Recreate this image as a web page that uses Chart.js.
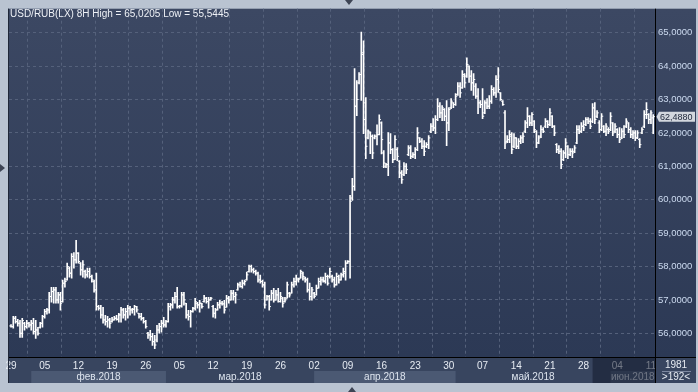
<!DOCTYPE html>
<html>
<head>
<meta charset="utf-8">
<script src="https://cdn.jsdelivr.net/npm/chart.js@4.4.1/dist/chart.umd.min.js"></script>
<style>
  html, body { margin: 0; padding: 0; background: #b9c3d1; }
  canvas { display: block; }
</style>
</head>
<body>
<canvas id="usdrub" width="698" height="392"></canvas>
<script>
// USD/RUB(LX), 8H bars, 29 Jan - 11 Jun 2018 (3 bars a day, 15 a week)
const opens = [
  56.22,56.20,56.45,56.35,56.30,56.00,56.30,56.20,56.30,56.25,
  56.30,56.05,56.10,56.18,56.30,56.50,56.65,56.70,57.10,57.25,
  57.30,57.00,57.15,56.95,57.50,57.60,57.95,57.80,58.30,58.20,
  58.40,58.10,57.90,57.85,57.75,57.85,57.70,57.55,57.30,56.80,
  56.75,56.55,56.40,56.35,56.40,56.35,56.40,56.45,56.42,56.55,
  56.70,56.55,56.65,56.75,56.70,56.72,56.80,56.60,56.50,56.45,
  56.35,56.00,55.95,55.90,55.75,55.80,56.10,56.20,56.30,56.25,
  56.35,56.80,56.85,57.00,57.10,56.80,56.82,57.15,56.90,56.55,
  56.50,56.65,56.75,56.90,56.85,56.90,56.95,57.05,56.95,57.00,
  56.80,56.60,56.70,56.85,56.90,56.88,56.78,57.05,57.00,57.20,
  57.10,57.30,57.45,57.40,57.50,57.60,57.85,58.00,57.90,57.85,
  57.80,57.60,57.55,57.45,57.00,57.10,57.00,57.20,57.00,57.15,
  56.95,57.05,56.95,57.05,57.20,57.20,57.45,57.55,57.60,57.65,
  57.80,57.65,57.60,57.30,57.10,57.20,57.15,57.35,57.55,57.60,
  57.55,57.70,57.70,57.70,57.60,57.45,57.70,57.60,57.75,57.80,
  58.10,58.15,60.05,60.40,62.80,63.50,63.75,64.40,62.90,61.85,
  62.00,61.90,61.85,61.90,61.95,62.30,61.40,61.00,61.05,61.70,
  61.50,61.20,61.50,61.15,60.80,60.75,61.00,61.35,61.55,61.30,
  61.35,61.50,61.85,61.75,61.60,61.60,61.65,62.05,62.20,62.15,
  62.40,62.80,62.60,62.70,62.50,62.30,62.75,62.90,62.85,63.15,
  63.40,63.35,63.70,63.70,64.00,63.70,63.50,63.40,63.10,62.90,
  62.85,62.60,62.90,62.80,62.95,63.30,63.20,63.60,63.20,62.95,
  62.60,61.75,61.80,61.90,61.60,61.85,61.60,61.75,61.85,62.05,
  62.30,62.50,62.30,62.35,62.05,61.70,61.90,62.10,62.20,62.35,
  62.25,62.50,62.20,61.65,61.50,61.45,61.20,61.40,61.60,61.35,
  61.45,61.45,61.70,62.10,62.05,62.20,62.25,62.40,62.35,62.35,
  62.75,62.50,62.30,62.10,62.20,62.05,62.10,62.10,62.30,62.05,
  62.10,61.95,61.85,62.05,62.20,62.30,62.10,61.95,62.00,61.85,
  61.80,62.00,62.20,62.55,62.55,62.40,62.45
];
const highs = [
  56.26,56.51,56.51,56.42,56.39,56.45,56.33,56.39,56.33,56.39,
  56.45,56.39,56.18,56.33,56.54,56.72,56.75,57.23,57.38,57.38,
  57.38,57.23,57.23,57.59,57.65,58.10,57.98,58.39,58.42,58.78,
  58.42,58.12,58.18,57.89,57.95,57.95,57.74,57.59,57.80,56.84,
  56.84,56.78,56.54,56.51,56.45,56.48,56.51,56.54,56.60,56.78,
  56.75,56.75,56.84,56.81,56.75,56.84,56.81,56.60,56.60,56.48,
  56.39,56.03,56.09,56.00,55.94,56.24,56.30,56.39,56.48,56.39,
  56.90,56.90,57.08,57.23,57.38,56.84,57.23,57.23,56.90,56.69,
  56.69,56.78,57.05,56.93,56.99,56.90,57.14,57.08,57.08,57.08,
  56.84,56.75,56.93,56.99,56.96,56.99,57.14,57.11,57.29,57.29,
  57.23,57.50,57.53,57.59,57.59,57.83,58.04,58.04,57.95,57.89,
  57.83,57.74,57.59,57.53,57.14,57.14,57.29,57.35,57.29,57.35,
  57.23,57.08,57.08,57.53,57.23,57.53,57.65,57.74,57.65,57.89,
  57.83,57.68,57.65,57.50,57.38,57.23,57.44,57.65,57.68,57.68,
  57.80,57.74,57.95,57.74,57.68,57.80,57.74,57.80,57.95,58.18,
  58.18,60.13,60.64,63.93,63.57,63.81,65.02,64.76,63.06,62.09,
  62.03,61.94,61.94,62.24,62.54,62.33,61.47,61.09,62.01,61.98,
  61.53,61.92,61.56,61.17,60.87,61.11,61.08,61.62,61.62,61.41,
  61.56,62.16,61.86,61.83,61.77,61.71,61.92,62.28,62.43,62.52,
  63.03,62.91,62.82,62.73,62.97,62.76,63.03,62.91,63.18,63.51,
  63.51,63.87,63.78,64.25,64.01,63.87,63.78,63.48,63.33,62.97,
  63.33,62.97,63.03,63.12,63.42,63.36,63.72,63.96,63.21,62.97,
  62.67,61.92,62.07,62.01,61.98,61.86,61.83,61.92,62.01,62.37,
  62.76,62.52,62.61,62.37,62.07,61.92,62.22,62.16,62.43,62.37,
  62.73,62.52,62.22,61.68,61.62,61.53,61.47,61.83,61.62,61.53,
  61.53,61.62,62.22,62.22,62.31,62.37,62.46,62.46,62.43,62.88,
  62.91,62.67,62.37,62.58,62.22,62.28,62.16,62.61,62.31,62.28,
  62.13,62.16,62.13,62.22,62.43,62.31,62.16,62.07,62.07,62.07,
  61.83,62.16,62.67,62.91,62.58,62.67,62.55
];
const lows = [
  56.18,56.15,56.30,56.21,55.88,55.88,56.09,56.15,56.18,56.09,
  55.97,55.85,55.94,56.15,56.18,56.45,56.57,56.60,56.93,56.90,
  56.90,56.90,56.69,56.93,57.38,57.59,57.68,57.65,57.95,58.10,
  58.10,57.74,57.68,57.65,57.68,57.65,57.53,57.23,56.69,56.69,
  56.45,56.30,56.24,56.18,56.15,56.33,56.39,56.39,56.33,56.33,
  56.45,56.39,56.45,56.54,56.60,56.54,56.63,56.45,56.39,56.30,
  56.15,55.85,55.79,55.64,55.54,55.74,56.00,56.03,56.18,56.18,
  56.33,56.69,56.75,56.90,56.75,56.75,56.78,56.84,56.45,56.39,
  56.18,56.63,56.69,56.75,56.63,56.75,56.93,56.90,56.75,56.99,
  56.48,56.45,56.69,56.75,56.84,56.60,56.78,56.90,56.99,56.99,
  56.90,57.29,57.38,57.35,57.44,57.59,57.83,57.83,57.80,57.74,
  57.53,57.50,57.38,56.75,56.99,56.69,56.99,56.93,56.99,56.93,
  56.93,56.78,56.93,57.05,57.08,57.20,57.38,57.44,57.53,57.65,
  57.59,57.53,57.23,56.99,56.99,57.05,57.14,57.35,57.44,57.53,
  57.50,57.44,57.65,57.53,57.38,57.44,57.50,57.59,57.68,57.59,
  58.09,57.65,59.98,60.28,62.52,63.47,62.97,61.98,61.23,61.82,
  61.38,61.23,61.82,61.64,61.94,61.37,60.96,60.96,60.72,61.38,
  61.11,61.20,61.17,60.66,60.49,60.72,60.78,61.32,61.23,61.26,
  61.23,61.47,61.71,61.53,61.32,61.56,61.53,62.01,62.07,61.98,
  62.37,62.46,62.37,62.37,61.62,62.07,62.73,62.76,62.82,63.12,
  63.06,63.33,63.36,63.66,63.51,63.27,63.12,63.03,62.58,62.76,
  62.43,62.58,62.73,62.73,62.88,63.12,63.06,63.21,62.97,62.82,
  61.53,61.71,61.71,61.38,61.56,61.53,61.53,61.68,61.71,62.01,
  62.16,62.22,62.22,62.01,61.56,61.68,61.86,62.01,62.16,62.16,
  62.22,62.16,61.92,61.41,61.38,60.93,61.17,61.26,61.23,61.32,
  61.26,61.41,61.68,61.98,62.01,62.07,62.22,62.28,62.13,62.31,
  62.28,62.46,62.01,62.07,62.01,61.92,61.98,62.07,61.92,62.01,
  61.86,61.71,61.83,61.86,62.16,62.01,61.86,61.83,61.77,61.83,
  61.56,61.98,62.16,62.43,62.28,62.28,61.98
];
const closes = [
  56.20,56.45,56.35,56.30,56.00,56.38,56.20,56.30,56.25,56.30,
  56.05,56.10,56.00,56.30,56.50,56.65,56.70,57.10,57.25,57.30,
  57.00,57.15,56.90,57.50,57.55,58.00,57.80,58.30,58.20,58.40,
  58.15,57.90,58.05,57.75,57.85,57.70,57.60,57.30,56.80,56.75,
  56.55,56.40,56.35,56.40,56.30,56.40,56.45,56.42,56.55,56.70,
  56.55,56.65,56.75,56.70,56.72,56.80,56.70,56.50,56.45,56.35,
  56.20,55.95,55.90,55.75,55.65,56.10,56.20,56.30,56.25,56.35,
  56.80,56.85,57.00,57.10,56.80,56.82,57.15,57.00,56.55,56.50,
  56.65,56.75,56.95,56.85,56.90,56.80,57.05,56.95,57.00,57.05,
  56.60,56.70,56.85,56.90,56.88,56.70,57.05,57.00,57.20,57.10,
  57.15,57.45,57.40,57.50,57.55,57.75,58.00,57.90,57.85,57.80,
  57.60,57.55,57.45,56.85,57.10,56.80,57.20,57.00,57.15,56.95,
  57.10,56.90,57.00,57.45,57.15,57.45,57.55,57.65,57.62,57.85,
  57.70,57.60,57.30,57.10,57.30,57.10,57.35,57.55,57.60,57.58,
  57.70,57.50,57.85,57.60,57.45,57.70,57.60,57.75,57.85,58.10,
  58.15,59.95,60.40,62.80,63.00,63.75,64.35,62.40,61.60,62.05,
  61.90,61.40,61.90,61.95,62.40,61.80,61.10,61.05,61.70,61.50,
  61.20,61.80,61.30,60.80,60.60,61.00,60.90,61.55,61.30,61.35,
  61.50,62.00,61.75,61.60,61.45,61.65,61.85,62.20,62.15,62.40,
  62.80,62.60,62.75,62.50,62.30,62.70,62.95,62.85,63.10,63.40,
  63.20,63.75,63.50,64.05,63.70,63.50,63.60,63.10,62.90,62.85,
  62.50,62.90,62.80,62.95,63.30,63.20,63.60,63.30,63.00,62.85,
  61.70,61.80,61.95,61.50,61.85,61.60,61.75,61.85,61.90,62.30,
  62.50,62.30,62.55,62.10,61.70,61.85,62.10,62.05,62.35,62.25,
  62.60,62.20,62.00,61.50,61.45,61.05,61.40,61.70,61.35,61.45,
  61.40,61.55,62.10,62.05,62.20,62.15,62.40,62.35,62.20,62.75,
  62.40,62.60,62.10,62.50,62.05,62.20,62.05,62.50,62.00,62.20,
  61.95,61.80,62.05,61.95,62.35,62.10,61.95,62.00,61.85,62.00,
  61.65,62.10,62.55,62.70,62.40,62.60,62.488
];

const weekLabels = ['29','05','12','19','26','05','12','19','26','02','09','16','23','30','07','14','21','28','04','11'];
const barsPerWeek = 15;
const months = ['фев.2018','мар.2018','апр.2018','май.2018','июн.2018'];
const monthStarts = [9, 69, 135, 198, 267];   // first bar of each month
const yTicks = [56, 57, 58, 59, 60, 61, 62, 63, 64, 65];
const lastPrice = 62.4880;
const shadeFrom = 259;                         // start of the dimmed part of the time axis
const titleText = 'USD/RUB(LX) 8H High = 65,0205 Low = 55,5445';

const FONT = '"Liberation Sans", Arial, sans-serif';
const fmt = v => v.toFixed(4).replace('.', ',');

const frame = {
  id: 'frame',
  beforeDraw(chart) {
    const {ctx, chartArea: a, scales: {x}} = chart;
    ctx.save();
    ctx.fillStyle = '#b9c3d1';
    ctx.fillRect(0, 0, chart.width, chart.height);
    const g = ctx.createLinearGradient(0, a.top, 0, a.bottom);
    g.addColorStop(0, '#3c4863');
    g.addColorStop(1, '#2c3955');
    ctx.fillStyle = g;
    ctx.fillRect(8, a.top, 688, a.bottom - a.top);
    ctx.fillStyle = '#38455f';
    ctx.fillRect(8, a.bottom, 688, 26);

    // month strip
    ctx.font = '10px ' + FONT;
    ctx.textAlign = 'center';
    ctx.textBaseline = 'middle';
    months.forEach((m, k) => {
      const x0 = x.getPixelForValue(monthStarts[k]);
      const x1 = k + 1 < months.length ? x.getPixelForValue(monthStarts[k + 1]) : a.right;
      if (k % 2 === 0) {
        ctx.fillStyle = '#4b5973';
        ctx.fillRect(x0, a.bottom + 14, x1 - x0, 12);
      }
      ctx.fillStyle = '#dde4ee';
      ctx.fillText(m, (x0 + x1) / 2, a.bottom + 20.5);
    });
    ctx.restore();
  },
  afterDraw(chart) {
    const {ctx, chartArea: a, scales: {x, y}} = chart;
    ctx.save();
    // dimmed tail of the time axis
    const sx = x.getPixelForValue(shadeFrom);
    ctx.fillStyle = 'rgba(18,26,44,0.55)';
    ctx.fillRect(sx, a.bottom + 1, a.right - sx, 25);

    // corner box
    ctx.fillStyle = '#38455f';
    ctx.fillRect(a.right + 1, a.bottom + 1, 696 - a.right - 1, 25);
    ctx.fillStyle = '#e6ebf2';
    ctx.font = '10px ' + FONT;
    ctx.textAlign = 'center';
    ctx.textBaseline = 'middle';
    ctx.fillText('1981', 676, a.bottom + 8);
    ctx.fillText('>192<', 676, a.bottom + 20.5);
    ctx.strokeStyle = '#7d88a0';
    ctx.beginPath();
    ctx.moveTo(662, a.bottom + 14.5);
    ctx.lineTo(691, a.bottom + 14.5);
    ctx.stroke();

    // black borders
    ctx.strokeStyle = '#000';
    ctx.lineWidth = 1;
    ctx.beginPath();
    ctx.moveTo(a.right + 0.5, a.top);
    ctx.lineTo(a.right + 0.5, a.bottom + 26);
    ctx.moveTo(8, a.bottom + 0.5);
    ctx.lineTo(696, a.bottom + 0.5);
    ctx.stroke();
    ctx.strokeStyle = '#1f2738';
    ctx.beginPath();
    ctx.moveTo(8.5, a.top);
    ctx.lineTo(8.5, a.bottom + 26);
    ctx.stroke();

    // title
    ctx.fillStyle = '#eef1f6';
    ctx.font = '10px ' + FONT;
    ctx.textAlign = 'left';
    ctx.textBaseline = 'middle';
    ctx.fillText(titleText, 10, 14);

    // last price marker
    const py = y.getPixelForValue(lastPrice);
    ctx.fillStyle = '#d3d7de';
    ctx.beginPath();
    ctx.moveTo(a.right + 1.5, py);
    ctx.lineTo(a.right + 4, py - 5);
    ctx.lineTo(695, py - 5);
    ctx.lineTo(695, py + 5);
    ctx.lineTo(a.right + 4, py + 5);
    ctx.closePath();
    ctx.fill();
    ctx.fillStyle = '#1c2438';
    ctx.font = '9px ' + FONT;
    ctx.fillText(fmt(lastPrice), a.right + 5, py + 0.5);

    // little arrows of the window frame
    ctx.fillStyle = '#3d4454';
    ctx.beginPath();
    ctx.moveTo(345, 0); ctx.lineTo(353, 0); ctx.lineTo(349, 5); ctx.closePath();
    ctx.moveTo(0, 164); ctx.lineTo(0, 172); ctx.lineTo(5, 168); ctx.closePath();
    ctx.moveTo(348, 392); ctx.lineTo(356, 392); ctx.lineTo(352, 387); ctx.closePath();
    ctx.fill();
    ctx.restore();
  }
};

const gridOpts = {color: '#55617b', drawTicks: false};
const borderOpts = {display: false, dash: [3, 3]};
const tickMark = {
  type: 'line',
  showLine: false,
  pointStyle: 'line',
  pointRadius: 0.8,
  pointHoverRadius: 0.8,
  pointBorderWidth: 1,
  pointBorderColor: '#ffffff'
};

new Chart(document.getElementById('usdrub'), {
  type: 'bar',
  data: {
    datasets: [
      {
        type: 'bar',
        data: highs.map((h, i) => ({x: i, y: [lows[i], h]})),
        backgroundColor: '#ffffff',
        borderWidth: 0,
        barThickness: 1,
        grouped: false
      },
      {...tickMark, data: opens.map((o, i) => ({x: i - 0.4, y: o}))},
      {...tickMark, data: closes.map((c, i) => ({x: i + 0.4, y: c}))}
    ]
  },
  options: {
    responsive: false,
    animation: false,
    devicePixelRatio: 1,
    layout: {padding: {left: 9, top: 8, right: 2, bottom: 9}},
    plugins: {legend: {display: false}, tooltip: {enabled: false}},
    scales: {
      x: {
        type: 'linear',
        min: -0.9,
        max: 286.8,
        offset: false,
        afterBuildTicks: s => { s.ticks = weekLabels.map((_, k) => ({value: k * barsPerWeek})); },
        afterFit: s => { s.height = 26; },
        grid: gridOpts,
        border: borderOpts,
        ticks: {
          autoSkip: false, maxRotation: 0, padding: 3,
          color: '#e6ebf2', font: {size: 10, family: FONT},
          callback: (v, i) => weekLabels[i]
        }
      },
      y: {
        position: 'right',
        min: 55.29,
        max: 65.72,
        afterBuildTicks: s => { s.ticks = yTicks.map(v => ({value: v})); },
        afterFit: s => { s.width = 41; },
        grid: gridOpts,
        border: borderOpts,
        ticks: {
          padding: 3, color: '#cddbf0', font: {size: 9.5, family: FONT},
          callback: v => fmt(v)
        }
      }
    }
  },
  plugins: [frame]
});
</script>
</body>
</html>
